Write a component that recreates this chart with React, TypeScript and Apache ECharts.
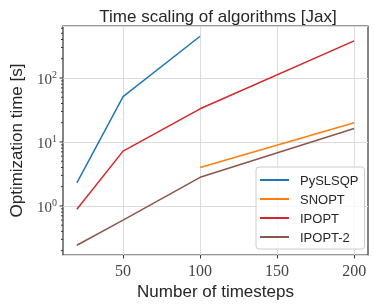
import React, { useEffect, useRef } from "react";
import * as echarts from "echarts";

const timesteps = [20, 50, 100, 200];
const pyslsqp = [2.3, 51, 450];
const snopt = [4.0, 20];
const ipopt = [0.89, 7.2, 33, 380];
const ipopt2 = [0.243, 0.6, 2.8, 16.2];
const xTickValues = [50, 100, 150, 200];
const yDecades = [-1, 0, 1, 2];

const X_MIN = 11;
const X_MAX = 209;
const Y_MIN = 0.171;
const Y_MAX = 650;

const SANS = "Liberation Sans";
const SERIF = "Liberation Serif";

function pairs(xs: number[], ys: number[]) {
  return ys.map((y, i) => [xs[i], y]);
}

export default function App() {
  const ref = useRef<HTMLDivElement>(null);
  useEffect(() => {
    if (!ref.current) return;
    const chart = echarts.init(ref.current, undefined, { renderer: "svg" });

    // y tick marks: [x, y, length]
    const tickData: number[][] = [];
    yDecades.forEach((e) => {
      for (let m = 1; m <= 9; m++) {
        const v = m * Math.pow(10, e);
        if (v >= Y_MIN && v <= Y_MAX) tickData.push([X_MIN, v, m === 1 ? 3.5 : 2]);
      }
    });

    const lineStyle = { width: 1.5 };
    chart.setOption({
      animation: false,
      title: {
        text: "Time scaling of algorithms [Jax]",
        left: 213,
        textAlign: "center",
        top: 3,
        textStyle: { fontFamily: SANS, fontSize: 17, fontWeight: "normal", color: "#262626" },
      },
      grid: {
        left: 58,
        right: 6,
        top: 26,
        bottom: 51,
        show: true,
        borderColor: "#333",
        borderWidth: 1.2,
        backgroundColor: "transparent",
      },
      legend: {
        left: 256,
        top: 167,
        orient: "vertical",
        data: ["PySLSQP", "SNOPT", "IPOPT", "IPOPT-2"],
        icon: "rect",
        itemWidth: 29,
        itemHeight: 2,
        itemGap: 5,
        padding: [6, 6, 5, 4],
        borderColor: "#cccccc",
        borderWidth: 1,
        borderRadius: 3,
        backgroundColor: "rgba(255,255,255,0.8)",
        textStyle: {
          fontFamily: SANS,
          fontSize: 13,
          color: "#262626",
          lineHeight: 14,
          padding: [0, 0, 0, 6],
        },
      },
      xAxis: {
        type: "value",
        min: X_MIN,
        max: X_MAX,
        name: "Number of timesteps",
        nameLocation: "middle",
        nameGap: 23,
        nameTextStyle: { fontFamily: SANS, fontSize: 17, color: "#262626" },
        axisLine: { show: false },
        axisTick: {
          show: true,
          customValues: xTickValues,
          length: 3.5,
          lineStyle: { color: "#333", width: 1 },
        },
        splitLine: { show: true, lineStyle: { color: "#dcdcdc", width: 1 } },
        axisLabel: {
          customValues: xTickValues,
          fontFamily: SERIF,
          fontSize: 16,
          color: "#444",
          margin: 7,
          hideOverlap: false,
        },
      },
      yAxis: {
        type: "log",
        logBase: 10,
        min: Y_MIN,
        max: Y_MAX,
        name: "Optimization time [s]",
        nameLocation: "middle",
        nameGap: 38,
        nameTextStyle: { fontFamily: SANS, fontSize: 17, color: "#262626" },
        axisLine: { show: false },
        axisTick: { show: false },
        splitLine: { show: true, lineStyle: { color: "#dcdcdc", width: 1 } },
        axisLabel: {
          margin: 6,
          color: "#444",
          fontFamily: SERIF,
          fontSize: 15,
          formatter: (v: number) => {
            const e = Math.round(Math.log10(v));
            if (Math.abs(v - Math.pow(10, e)) > 1e-6 * v) return "";
            return `{b|10}{s|${e}}`;
          },
          rich: {
            b: { fontFamily: SERIF, fontSize: 15, color: "#444", verticalAlign: "bottom" },
            s: {
              fontFamily: SERIF,
              fontSize: 10,
              color: "#444",
              verticalAlign: "bottom",
              padding: [0, 0, 7, 0],
            },
          },
        },
      },
      series: [
        {
          name: "PySLSQP",
          type: "line",
          data: pairs(timesteps, pyslsqp),
          symbol: "none",
          color: "#1f77b4",
          lineStyle,
        },
        {
          name: "SNOPT",
          type: "line",
          data: pairs(timesteps.slice(2), snopt),
          symbol: "none",
          color: "#ff7f0e",
          lineStyle,
        },
        {
          name: "IPOPT",
          type: "line",
          data: pairs(timesteps, ipopt),
          symbol: "none",
          color: "#d62728",
          lineStyle,
        },
        {
          name: "IPOPT-2",
          type: "line",
          data: pairs(timesteps, ipopt2),
          symbol: "none",
          color: "#8c564b",
          lineStyle,
        },
        {
          name: "ticks",
          type: "custom",
          silent: true,
          clip: false,
          data: tickData,
          renderItem: (params: any, api: any) => {
            const p = api.coord([api.value(0), api.value(1)]);
            const len = api.value(2);
            return {
              type: "line",
              shape: { x1: p[0] - len, y1: p[1], x2: p[0], y2: p[1] },
              style: { stroke: "#333", lineWidth: 1 },
            };
          },
        },
      ],
    });
    return () => chart.dispose();
  }, []);
  return (
    <div
      ref={ref}
      style={{ width: 374, height: 306, position: "fixed", left: 0, top: 0 }}
    />
  );
}
